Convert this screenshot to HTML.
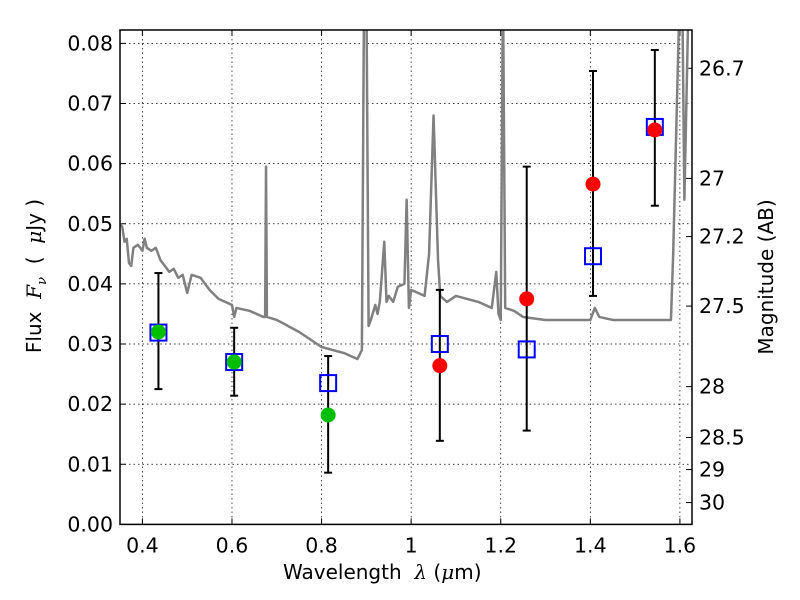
<!DOCTYPE html>
<html><head><meta charset="utf-8"><style>
body{margin:0;background:#fff}
svg{display:block;font-family:"DejaVu Sans","Liberation Sans",sans-serif}
</style></head><body>
<svg id="chart" width="800" height="600"></svg>
<script>
const specLam=[0.35,0.355,0.36,0.365,0.37,0.375,0.38,0.39,0.40,0.405,0.41,0.42,0.43,0.44,0.45,0.46,0.47,0.48,0.49,0.50,0.51,0.53,0.55,0.57,0.60,0.605,0.61,0.64,0.67,0.674,0.676,0.678,0.70,0.75,0.80,0.85,0.88,0.89,0.895,0.90,0.905,0.91,0.92,0.925,0.93,0.94,0.945,0.95,0.96,0.97,0.985,0.99,0.995,1.00,1.03,1.04,1.05,1.06,1.065,1.08,1.10,1.15,1.18,1.19,1.195,1.20,1.205,1.21,1.23,1.25,1.30,1.35,1.40,1.41,1.42,1.45,1.50,1.55,1.58,1.585,1.59,1.60,1.605,1.61,1.62,1.627];
const specFlux=[0.050,0.0495,0.047,0.0475,0.0435,0.043,0.046,0.0465,0.0455,0.0475,0.046,0.0455,0.046,0.044,0.043,0.042,0.0425,0.041,0.0415,0.0385,0.0415,0.041,0.039,0.0375,0.0365,0.0345,0.036,0.0355,0.0345,0.0345,0.0595,0.0345,0.034,0.032,0.0295,0.0285,0.0275,0.029,0.09,0.09,0.033,0.034,0.0365,0.035,0.037,0.047,0.037,0.038,0.037,0.0395,0.040,0.054,0.036,0.039,0.038,0.045,0.068,0.044,0.038,0.037,0.038,0.037,0.036,0.042,0.035,0.034,0.09,0.036,0.0355,0.0345,0.034,0.034,0.034,0.036,0.0345,0.034,0.034,0.034,0.034,0.045,0.06,0.09,0.09,0.054,0.09,0.09];
const bandLam=[0.4358,0.6049,0.8147,1.064,1.258,1.406,1.544];
const modelFlux=[0.0319,0.0270,0.0235,0.0300,0.0291,0.0446,0.0661];
const errHi=[0.0418,0.0327,0.0280,0.0390,0.0595,0.0754,0.0789];
const errLo=[0.0225,0.0214,0.0086,0.0139,0.0156,0.0380,0.0530];
const greenLam=[0.4358,0.6049,0.8147];
const greenFlux=[0.0320,0.0270,0.0182];
const redLam=[1.064,1.258,1.406,1.544];
const redFlux=[0.0264,0.0375,0.0566,0.0656];
const xTicks=[0.4,0.6,0.8,1.0,1.2,1.4,1.6];
const xTickLabels=["0.4","0.6","0.8","1","1.2","1.4","1.6"];
const yTicks=[0,0.01,0.02,0.03,0.04,0.05,0.06,0.07,0.08];
const magTicks=[26.7,27,27.2,27.5,28,28.5,29,30];

const L=120,R=692,T=30,B=524.4,XMIN=0.35,XMAX=1.627,YMIN=0,YMAX=(524.4-30)/6013;
const sx=v=>L+(v-XMIN)/(XMAX-XMIN)*(R-L);
const sy=v=>B-(v-YMIN)/(YMAX-YMIN)*(B-T);
const NS="http://www.w3.org/2000/svg";
const svg=document.getElementById('chart');
function mk(t,a,p){const e=document.createElementNS(NS,t);for(const k in a)e.setAttribute(k,a[k]);(p||svg).appendChild(e);return e;}
const clip=mk('clipPath',{id:'c'});mk('rect',{x:L,y:T,width:R-L,height:B-T},clip);
xTicks.forEach((v,i)=>{
 const g=mk('line',{x1:sx(v),x2:sx(v),y1:T,y2:B,stroke:'#000','stroke-width':0.7,'stroke-dasharray':'1.5,3'});
 
 mk('line',{x1:sx(v),x2:sx(v),y1:B,y2:B-6,stroke:'#000'});mk('line',{x1:sx(v),x2:sx(v),y1:T,y2:T+6,stroke:'#000'});
 const t=mk('text',{x:sx(v),y:B+28,'font-size':20.5,'text-anchor':'middle'});t.textContent=xTickLabels[i];
 
});
yTicks.forEach(v=>{
 if(v>0){const g=mk('line',{x1:L,x2:R,y1:sy(v),y2:sy(v),stroke:'#000','stroke-width':0.7,'stroke-dasharray':'1.5,3'});
 }
 mk('line',{x1:L,x2:L+6,y1:sy(v),y2:sy(v),stroke:'#000'});
 const t=mk('text',{x:L-7,y:sy(v)+7,'font-size':20.5,'text-anchor':'end'});t.textContent=v.toFixed(2);
 
});
magTicks.forEach(m=>{
 const y=sy(Math.pow(10,(23.9-m)/2.5));
 mk('line',{x1:R,x2:R-6,y1:y,y2:y,stroke:'#000'});
 const t=mk('text',{x:R+7,y:y+7,'font-size':20.5});t.textContent=String(m);
 
});
const sp=mk('polyline',{points:specLam.map((l,i)=>sx(l)+','+sy(specFlux[i])).join(' '),fill:'none',stroke:'#808080','stroke-width':2.5,'stroke-linejoin':'round','clip-path':'url(#c)'});

bandLam.forEach((l,i)=>{
 const x=sx(l),g=mk('g',{stroke:'#000','stroke-width':2});
 
 mk('line',{x1:x,x2:x,y1:sy(errHi[i]),y2:sy(errLo[i])},g);
 mk('line',{x1:x-4,x2:x+4,y1:sy(errHi[i]),y2:sy(errHi[i])},g);
 mk('line',{x1:x-4,x2:x+4,y1:sy(errLo[i]),y2:sy(errLo[i])},g);
});
bandLam.forEach((l,i)=>{
 const r=mk('rect',{x:sx(l)-8,y:sy(modelFlux[i])-8,width:16,height:16,fill:'none',stroke:'#0000ff','stroke-width':2});
 
});
greenLam.forEach((l,i)=>{
 const c=mk('circle',{cx:sx(l),cy:sy(greenFlux[i]),r:7.5,fill:'#00bf00'});
 
});
redLam.forEach((l,i)=>{
 const c=mk('circle',{cx:sx(l),cy:sy(redFlux[i]),r:7.5,fill:'#ff0000'});
 
});
const fr=mk('rect',{x:L,y:T,width:R-L,height:B-T,fill:'none',stroke:'#000','stroke-width':1.5});

</script>
<div style="position:absolute;left:0;top:0;width:800px;height:600px;pointer-events:none;font-family:'DejaVu Sans','Liberation Sans',sans-serif">
 <div style="position:absolute;left:283px;top:560px;font-size:20px">Wavelength&nbsp; <i style="font-family:'DejaVu Serif',serif">λ</i> (<i style="font-family:'DejaVu Serif',serif">μ</i>m)</div>
 <div style="position:absolute;left:36px;top:276px;font-size:20px;transform:translate(-50%,-50%) rotate(-90deg);white-space:nowrap">Flux&nbsp; <i style="font-family:'DejaVu Serif',serif">F<sub style="font-size:13px">ν</sub></i>&nbsp; (&nbsp; <i style="font-family:'DejaVu Serif',serif">μ</i>Jy )</div>
 <div style="position:absolute;left:766px;top:277px;font-size:20px;transform:translate(-50%,-50%) rotate(-90deg);white-space:nowrap">Magnitude (AB)</div>
</div>
</body></html>
